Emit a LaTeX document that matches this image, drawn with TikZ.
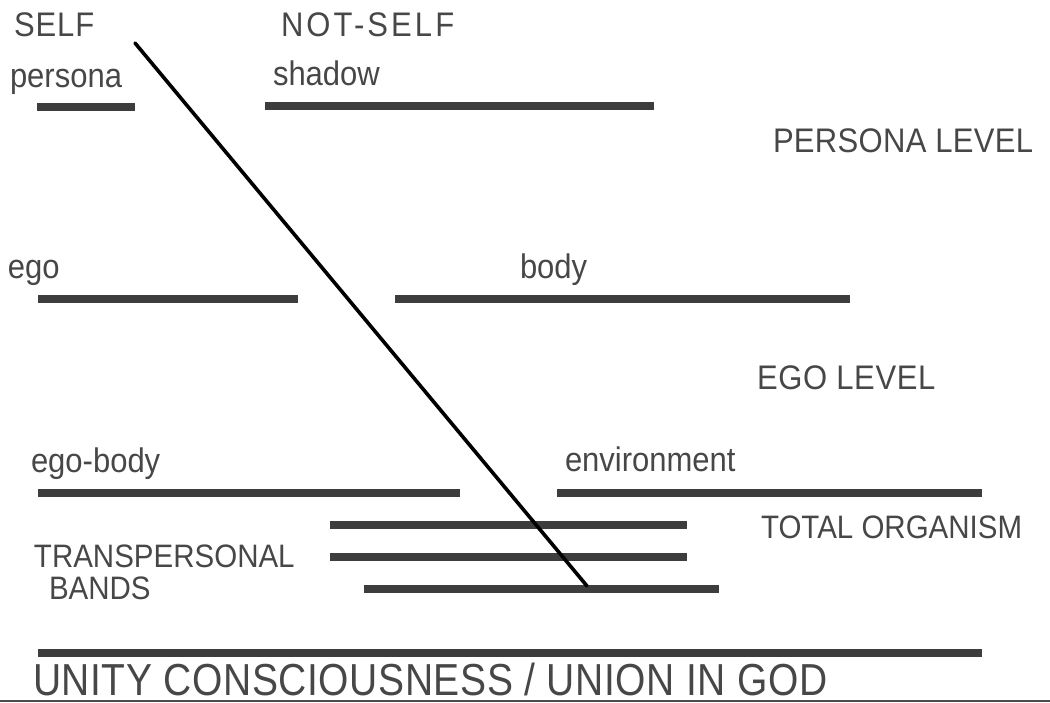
\documentclass[tikz,border=0pt]{standalone}
\usepackage{fontspec}
\setmainfont{Liberation Sans}
\usepackage{graphicx}
\newcommand\talltext[1]{\scalebox{1}[1.1]{#1}}
\begin{document}
\begin{tikzpicture}[x=1pt,y=-1pt,
  lbl/.style={anchor=base west, inner sep=0pt, outer sep=0pt, text=black!72,
    font=\fontsize{31}{31}\selectfont},
  sml/.style={lbl, font=\fontsize{29.5}{29.5}\selectfont},
  bar/.style={line width=8pt, draw=black!76},
  diag/.style={line width=3.6pt, draw=black, line cap=round}]
\useasboundingbox (0,0) rectangle (1050,702);

% labels
\node[lbl] (self) at (14,36) {\talltext{\addfontfeature{LetterSpace=3}SELF}};
\node[lbl] (notself) at (281,36) {\talltext{\addfontfeature{LetterSpace=10}NOT-SELF}};
\node[lbl] (persona) at (10,87) {\talltext{persona}};
\node[lbl] (shadow) at (273,85) {\talltext{shadow}};
\node[lbl] (personalevel) at (773,152) {\talltext{\addfontfeature{LetterSpace=1}PERSONA LEVEL}};
\node[lbl] (ego) at (8,278) {\talltext{ego}};
\node[lbl] (body) at (520,278) {\talltext{body}};
\node[lbl] (egolevel) at (757,389) {\talltext{\addfontfeature{LetterSpace=2}EGO LEVEL}};
\node[lbl] (egobody) at (31,472) {\talltext{ego-body}};
\node[lbl] (environment) at (565,471) {\talltext{environment}};
\node[sml] (total) at (761,538) {\talltext{TOTAL ORGANISM}};
\node[sml] (trans) at (34,567) {\talltext{TRANSPERSONAL}};
\node[sml] (bands) at (49,599) {\talltext{BANDS}};
\node[lbl, font=\fontsize{39}{39}\selectfont] (unity) at (33,695)
  {\scalebox{1}[1.15]{\addfontfeature{LetterSpace=1.5}UNITY CONSCIOUSNESS / UNION IN GOD}};

% bars
\draw[bar] (37,107) -- (135,107);
\draw[bar] (265,106) -- (654,106);
\draw[bar] (38,299) -- (298,299);
\draw[bar] (395,299) -- (850,299);
\draw[bar] (38,493) -- (460,493);
\draw[bar] (557,493) -- (982,493);
\draw[bar] (330,525) -- (687,525);
\draw[bar] (330,557) -- (687,557);
\draw[bar] (364,589) -- (719,589);
\draw[bar] (38,653) -- (982,653);
\draw[line width=2.5pt, draw=black!70] (0,700.75) -- (1050,700.75);

% diagonal
\coordinate (dtop) at (135,43);
\coordinate (dbot) at (587,586);
\draw[diag] (dtop) -- (dbot);
\end{tikzpicture}
\end{document}
